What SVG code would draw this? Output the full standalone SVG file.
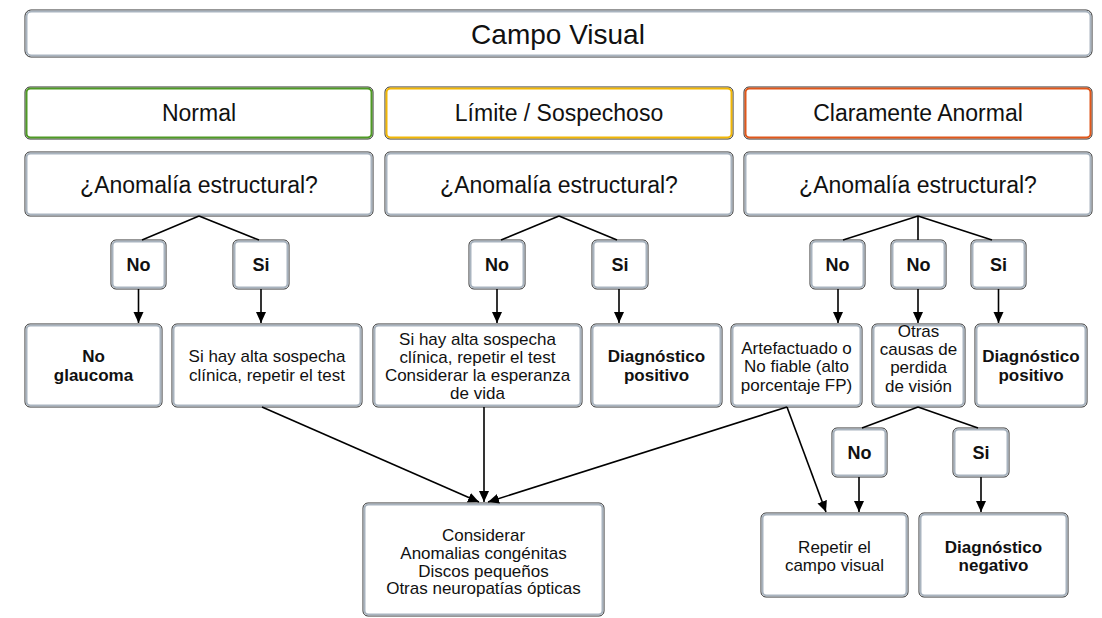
<svg xmlns="http://www.w3.org/2000/svg" width="1102" height="618" viewBox="0 0 1102 618">
  <defs>
    <marker id="arrow" markerUnits="userSpaceOnUse" markerWidth="12" markerHeight="12" viewBox="0 0 12 12" refX="11" refY="6" orient="auto">
      <path d="M0,1 L11,6 L0,11 Z" fill="#000"/>
    </marker>
  </defs>
  <style>
    .box { fill: #ffffff; stroke: #2e2e2e; stroke-width: 1; }
    .band { fill: none; stroke: #a9b4bf; stroke-width: 2; }
    .band-green { fill: none; stroke: #4f9a25; stroke-width: 2; }
    .band-yellow { fill: none; stroke: #f2b705; stroke-width: 2; }
    .band-orange { fill: none; stroke: #e0571a; stroke-width: 2; }
    text { font-family: "Liberation Sans", Arial, Helvetica, sans-serif; fill: #111; text-anchor: middle; }
    .t28 { font-size: 28px; }
    .t23 { font-size: 23px; }
    .t17 { font-size: 17px; }
    .t18 { font-size: 18px; }
    .b { font-weight: bold; }
    .edge { stroke: #000; stroke-width: 1.6; fill: none; }
    .arr { marker-end: url(#arrow); }
  </style>

  <!-- header -->
  <g id="campo-visual">
    <rect class="box" x="25" y="10" width="1067" height="47" rx="6"/>
    <rect class="band" x="26.5" y="11.5" width="1064" height="44" rx="5"/>
    <text class="t28" x="558" y="44">Campo Visual</text>
  </g>

  <!-- category row -->
  <g id="normal">
    <rect class="box" x="25" y="87" width="348" height="52" rx="5"/>
    <rect class="band-green" x="26.5" y="88.5" width="345" height="49" rx="4"/>
    <text class="t23" x="199" y="121">Normal</text>
  </g>
  <g id="limite">
    <rect class="box" x="385" y="87" width="348" height="52" rx="5"/>
    <rect class="band-yellow" x="386.5" y="88.5" width="345" height="49" rx="4"/>
    <text class="t23" x="559" y="121">Límite / Sospechoso</text>
  </g>
  <g id="anormal">
    <rect class="box" x="744" y="87" width="348" height="52" rx="5"/>
    <rect class="band-orange" x="745.5" y="88.5" width="345" height="49" rx="4"/>
    <text class="t23" x="918" y="121">Claramente Anormal</text>
  </g>

  <!-- structural question row -->
  <g id="q-normal">
    <rect class="box" x="25" y="152" width="348" height="64" rx="5"/>
    <rect class="band" x="26.5" y="153.5" width="345" height="61" rx="4"/>
    <text class="t23" x="199" y="193">¿Anomalía estructural?</text>
  </g>
  <g id="q-limite">
    <rect class="box" x="385" y="152" width="348" height="64" rx="5"/>
    <rect class="band" x="386.5" y="153.5" width="345" height="61" rx="4"/>
    <text class="t23" x="559" y="193">¿Anomalía estructural?</text>
  </g>
  <g id="q-anormal">
    <rect class="box" x="744" y="152" width="348" height="64" rx="5"/>
    <rect class="band" x="745.5" y="153.5" width="345" height="61" rx="4"/>
    <text class="t23" x="918" y="193">¿Anomalía estructural?</text>
  </g>

  <!-- answer boxes -->
  <g id="n-no">
    <rect class="box" x="111" y="240" width="55" height="49" rx="5"/>
    <rect class="band" x="112.5" y="241.5" width="52" height="46" rx="4"/>
    <text class="t18 b" x="138.5" y="271">No</text>
  </g>
  <g id="n-si">
    <rect class="box" x="233" y="240" width="56" height="49" rx="5"/>
    <rect class="band" x="234.5" y="241.5" width="53" height="46" rx="4"/>
    <text class="t18 b" x="261" y="271">Si</text>
  </g>
  <g id="l-no">
    <rect class="box" x="469" y="240" width="56" height="49" rx="5"/>
    <rect class="band" x="470.5" y="241.5" width="53" height="46" rx="4"/>
    <text class="t18 b" x="497" y="271">No</text>
  </g>
  <g id="l-si">
    <rect class="box" x="592" y="240" width="56" height="49" rx="5"/>
    <rect class="band" x="593.5" y="241.5" width="53" height="46" rx="4"/>
    <text class="t18 b" x="620" y="271">Si</text>
  </g>
  <g id="a-no1">
    <rect class="box" x="810" y="240" width="55" height="49" rx="5"/>
    <rect class="band" x="811.5" y="241.5" width="52" height="46" rx="4"/>
    <text class="t18 b" x="837.5" y="271">No</text>
  </g>
  <g id="a-no2">
    <rect class="box" x="891" y="240" width="55" height="49" rx="5"/>
    <rect class="band" x="892.5" y="241.5" width="52" height="46" rx="4"/>
    <text class="t18 b" x="918.5" y="271">No</text>
  </g>
  <g id="a-si">
    <rect class="box" x="971" y="240" width="55" height="49" rx="5"/>
    <rect class="band" x="972.5" y="241.5" width="52" height="46" rx="4"/>
    <text class="t18 b" x="998.5" y="271">Si</text>
  </g>

  <!-- outcome row -->
  <g id="no-glaucoma">
    <rect class="box" x="25" y="324" width="137" height="83" rx="5"/>
    <rect class="band" x="26.5" y="325.5" width="134" height="80" rx="4"/>
    <text class="t17 b" x="93.5" y="362">No</text>
    <text class="t17 b" x="93.5" y="381">glaucoma</text>
  </g>
  <g id="n-repetir">
    <rect class="box" x="172" y="324" width="190" height="83" rx="5"/>
    <rect class="band" x="173.5" y="325.5" width="187" height="80" rx="4"/>
    <text class="t17" x="267" y="362">Si hay alta sospecha</text>
    <text class="t17" x="267" y="381">clínica, repetir el test</text>
  </g>
  <g id="l-repetir">
    <rect class="box" x="373" y="324" width="209" height="83" rx="5"/>
    <rect class="band" x="374.5" y="325.5" width="206" height="80" rx="4"/>
    <text class="t17" x="477.5" y="345">Si hay alta sospecha</text>
    <text class="t17" x="477.5" y="363">clínica, repetir el test</text>
    <text class="t17" x="477.5" y="381">Considerar la esperanza</text>
    <text class="t17" x="477.5" y="399">de vida</text>
  </g>
  <g id="l-positivo">
    <rect class="box" x="591" y="324" width="131" height="83" rx="5"/>
    <rect class="band" x="592.5" y="325.5" width="128" height="80" rx="4"/>
    <text class="t17 b" x="656.5" y="362">Diagnóstico</text>
    <text class="t17 b" x="656.5" y="381">positivo</text>
  </g>
  <g id="artefactuado">
    <rect class="box" x="731" y="324" width="131" height="83" rx="5"/>
    <rect class="band" x="732.5" y="325.5" width="128" height="80" rx="4"/>
    <text class="t17" x="796.5" y="354">Artefactuado o</text>
    <text class="t17" x="796.5" y="372">No fiable (alto</text>
    <text class="t17" x="796.5" y="391">porcentaje FP)</text>
  </g>
  <g id="otras-causas">
    <rect class="box" x="872" y="324" width="93" height="83" rx="5"/>
    <rect class="band" x="873.5" y="325.5" width="90" height="80" rx="4"/>
    <text class="t17" x="918.5" y="337">Otras</text>
    <text class="t17" x="918.5" y="355">causas de</text>
    <text class="t17" x="918.5" y="373">perdida</text>
    <text class="t17" x="918.5" y="392">de visión</text>
  </g>
  <g id="a-positivo">
    <rect class="box" x="975" y="324" width="112" height="83" rx="5"/>
    <rect class="band" x="976.5" y="325.5" width="109" height="80" rx="4"/>
    <text class="t17 b" x="1031" y="362">Diagnóstico</text>
    <text class="t17 b" x="1031" y="381">positivo</text>
  </g>

  <!-- second answer pair -->
  <g id="o-no">
    <rect class="box" x="832" y="428" width="55" height="49" rx="5"/>
    <rect class="band" x="833.5" y="429.5" width="52" height="46" rx="4"/>
    <text class="t18 b" x="859.5" y="459">No</text>
  </g>
  <g id="o-si">
    <rect class="box" x="953" y="428" width="56" height="49" rx="5"/>
    <rect class="band" x="954.5" y="429.5" width="53" height="46" rx="4"/>
    <text class="t18 b" x="981" y="459">Si</text>
  </g>

  <!-- final outcomes -->
  <g id="considerar">
    <rect class="box" x="363" y="503" width="241" height="113" rx="5"/>
    <rect class="band" x="364.5" y="504.5" width="238" height="110" rx="4"/>
    <text class="t17" x="483.5" y="541">Considerar</text>
    <text class="t17" x="483.5" y="559">Anomalias congénitas</text>
    <text class="t17" x="483.5" y="577">Discos pequeños</text>
    <text class="t17" x="483.5" y="594">Otras neuropatías ópticas</text>
  </g>
  <g id="repetir-campo">
    <rect class="box" x="761" y="513" width="147" height="84" rx="5"/>
    <rect class="band" x="762.5" y="514.5" width="144" height="81" rx="4"/>
    <text class="t17" x="834.5" y="553">Repetir el</text>
    <text class="t17" x="834.5" y="571">campo visual</text>
  </g>
  <g id="diagnostico-negativo">
    <rect class="box" x="919" y="513" width="149" height="84" rx="5"/>
    <rect class="band" x="920.5" y="514.5" width="146" height="81" rx="4"/>
    <text class="t17 b" x="993.5" y="553">Diagnóstico</text>
    <text class="t17 b" x="993.5" y="571">negativo</text>
  </g>

  <!-- connectors -->
  <g id="connectors">
    <line class="edge" x1="199" y1="216" x2="142" y2="240"/>
    <line class="edge" x1="199" y1="216" x2="259" y2="240"/>
    <line class="edge" x1="559" y1="216" x2="501" y2="240"/>
    <line class="edge" x1="559" y1="216" x2="617" y2="240"/>
    <line class="edge" x1="918" y1="216" x2="843" y2="240"/>
    <line class="edge" x1="918" y1="216" x2="918" y2="240"/>
    <line class="edge" x1="918" y1="216" x2="992" y2="240"/>
    <line class="edge" x1="918" y1="407" x2="862" y2="428"/>
    <line class="edge" x1="918" y1="407" x2="978" y2="428"/>

    <line class="edge arr" x1="138.5" y1="289" x2="138.5" y2="323"/>
    <line class="edge arr" x1="261" y1="289" x2="261" y2="323"/>
    <line class="edge arr" x1="497" y1="289" x2="497" y2="323"/>
    <line class="edge arr" x1="619" y1="289" x2="619" y2="323"/>
    <line class="edge arr" x1="838" y1="289" x2="838" y2="323"/>
    <line class="edge arr" x1="918" y1="289" x2="918" y2="323"/>
    <line class="edge arr" x1="998.5" y1="289" x2="998.5" y2="323"/>
    <line class="edge arr" x1="859" y1="477" x2="859" y2="512"/>
    <line class="edge arr" x1="981" y1="477" x2="981" y2="512"/>

    <line class="edge arr" x1="262" y1="407" x2="479" y2="502"/>
    <line class="edge arr" x1="484" y1="407" x2="484" y2="502"/>
    <line class="edge arr" x1="787" y1="407" x2="488" y2="502"/>
    <line class="edge arr" x1="787" y1="407" x2="826" y2="512"/>
  </g>
</svg>
